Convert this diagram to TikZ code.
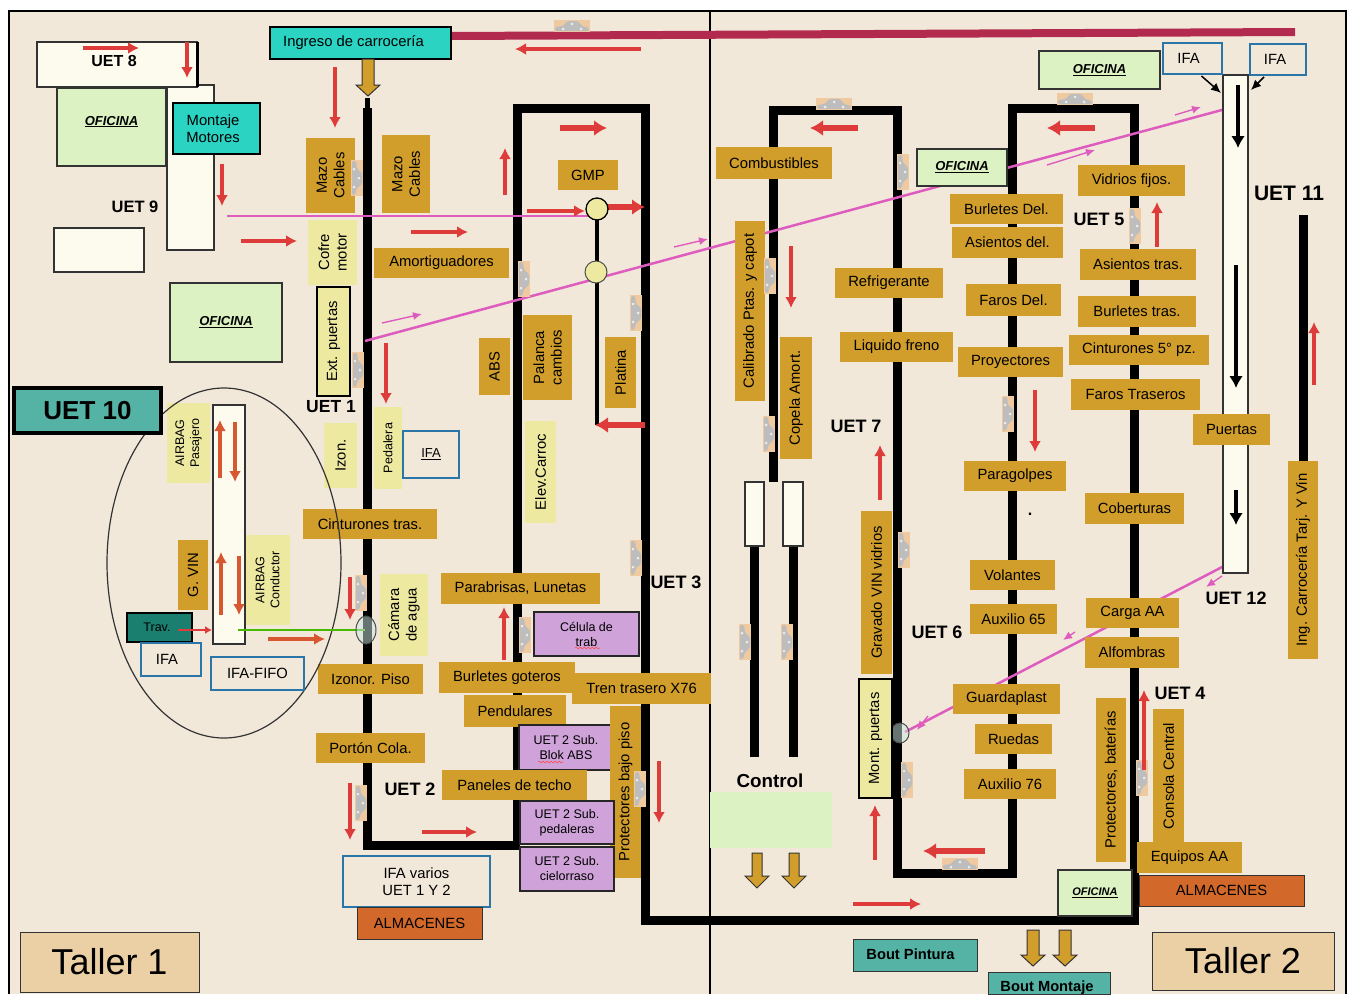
\documentclass[tikz,border=0pt]{standalone}
\usepackage{fontspec}
\setmainfont{Liberation Sans}
\usetikzlibrary{decorations.pathmorphing,arrows.meta}
\definecolor{beigeBg}{HTML}{F2E8DA}
\definecolor{goldBox}{HTML}{D19E2B}
\definecolor{paleBox}{HTML}{EDE9A1}
\definecolor{aquaBox}{HTML}{2BD3C3}
\definecolor{creamBox}{HTML}{FDFAEE}
\definecolor{officeBox}{HTML}{DCF2C2}
\definecolor{purpleBox}{HTML}{CFA3D9}
\definecolor{tealBox}{HTML}{55B3A5}
\definecolor{travBox}{HTML}{1B7F70}
\definecolor{orangeBox}{HTML}{D2692B}
\definecolor{ifaBlue}{HTML}{2A76A8}
\definecolor{tallerBox}{HTML}{EBD0A6}
\definecolor{flowRed}{HTML}{DE3B3B}
\definecolor{flowPink}{HTML}{DE5CBE}
\definecolor{crimsonBar}{HTML}{B22A4E}
\definecolor{carTan}{HTML}{EFC9A0}
\definecolor{carGray}{HTML}{BDBDBD}
\tikzset{
  sz/.style 2 args={minimum width=#1pt,minimum height=#2pt},
  base/.style={inner sep=0pt,outer sep=0pt,align=center,font=\fontsize{14.8}{17.5}\selectfont},
  gold/.style={base,fill=goldBox},
  pale/.style={base,fill=paleBox},
  paleline/.style={base,fill=paleBox,draw=black,line width=1.2pt},
  aqua/.style={base,fill=aquaBox,draw=black,line width=1.5pt},
  cream/.style={base,fill=creamBox,draw=black!80,line width=1.3pt},
  office/.style={base,fill=officeBox,draw=black!80,line width=1.3pt,font=\fontsize{13}{15}\selectfont\bfseries\itshape},
  purple/.style={base,fill=purpleBox,draw=black!85,line width=1.5pt,font=\fontsize{12.5}{15}\selectfont},
  ifabox/.style={base,draw=ifaBlue,line width=2.5pt},
  orangebox/.style={base,fill=orangeBox,draw=black!80,line width=1pt},
  tealbox/.style={base,fill=tealBox,draw=black!80,line width=1pt,font=\fontsize{14.7}{17}\selectfont\bfseries},
  tallerbox/.style={base,fill=tallerBox,draw=black!80,line width=1pt,font=\fontsize{36}{40}\selectfont},
  uetlabel/.style={base,font=\fontsize{18}{20}\selectfont\bfseries},
  belt/.style={line width=9pt,black},
  flowarrow/.style={-{Latex[length=11pt,width=12pt]},line width=4pt,flowRed},
  bigarrow/.style={-{Latex[length=13pt,width=16pt]},line width=5.5pt,flowRed},
  pinkline/.style={line width=2.5pt,flowPink},
  pinkarrow/.style={-{Latex[length=9pt,width=8pt]},line width=1.4pt,flowPink},
  blackarrow/.style={-{Latex[length=12pt,width=14pt]},line width=4pt,black},
  goldarrow/.style={line width=1pt,draw=black!80,fill=goldBox},
  car/.pic={
    \fill[carTan] (-18,-6) rectangle (18,6);
    \fill[carGray,rounded corners=1.5pt] (-17,5) -- (-17,1) -- (-9,0) -- (-5,-5) -- (6,-5) -- (10,0) -- (17,2) -- (17,5) -- cycle;
    \fill[white!85!gray] (-9,3) circle (1.5) (9,3) circle (1.5) (0,-2) circle (1.5);
  },
  squiggle/.style={red!70,line width=.6pt,decorate,decoration={snake,amplitude=.8pt,segment length=4pt}}
}
\newcommand{\oficina}{\underline{OFICINA}}
\begin{document}
\begin{tikzpicture}[x=1pt,y=-1pt]
  \useasboundingbox (0,0) rectangle (1351,994);
  \fill[white] (0,0) rectangle (1351,994);
  \fill[beigeBg] (9,11) rectangle (1346,994);
  \draw[line width=1.8pt,black] (9,994) -- (9,11) -- (1346,11) -- (1346,994);
  \draw[line width=2.5pt,black] (710,11) -- (710,994);

  % Lines of the plant
  \draw[belt] (367,108) -- (367,845) -- (520,845);
  \draw[line width=5pt] (367,98) -- (367,110);
  \draw[belt] (517,845) -- (517,108) -- (645,108) -- (645,920) -- (1134,920) -- (1134,108) -- (1012,108) -- (1012,873) -- (897,873) -- (897,110) -- (773,110) -- (773,482);
  \draw[belt] (754,546) -- (754,757);
  \draw[belt] (793,546) -- (793,757);
  \draw[belt] (1303,215) -- (1303,461);
  \draw[line width=4pt] (597,207) -- (597,425);
  \draw[crimsonBar,line width=8pt] (451,36) -- (1295,32);

  % Pink routes
  \draw[pinkline] (227,216) -- (597,216);
  \draw[pinkline] (365,341) -- (1233,107);
  \draw[pinkline] (1224,566) -- (905,732);
  \foreach \xa/\ya/\xb/\yb in {382/323/422/314,674/247/708/239,1047/165/1095/150,1175/115/1201/107,1222/576/1206/587,1075/632/1063/640,928/716/917/730}{
    \draw[pinkarrow] (\xa,\ya) -- (\xb,\yb);
  }
  \draw[line width=1pt,black!70,fill=tealBox!30,fill opacity=.5] (900,733) ellipse [x radius=9,y radius=10];

  % Left side
  \node[cream,sz={47}{165}] (crMotores) at (190.5,167.5) {};
  \node[cream,sz={160}{45}] (crUetEight) at (117,64.5) {};
  \draw[line width=3pt] (197,42) -- (197,87);
  \node[uetlabel,font=\fontsize{16}{18}\selectfont\bfseries] (uetEight) at (114,61) {UET 8};
  \node[office,sz={109}{78}] (ofiA) at (111.5,127) {\raisebox{2pt}[0pt][0pt]{\oficina}};
  \node[aqua,sz={87}{51}] (montaje) at (216.5,128.5) {\hspace*{-7pt}Montaje\\\hspace*{-7pt}Motores};
  \node[uetlabel,font=\fontsize{16.5}{18}\selectfont\bfseries] (uetNine) at (135,207) {UET 9};
  \node[cream,sz={90}{44}] (crNine) at (99,250) {};
  \node[office,sz={112}{79}] (ofiB) at (226,322.5) {\raisebox{-3pt}[0pt][0pt]{\oficina}};
  \node[aqua,sz={181}{32}] (ingreso) at (360.5,43) {\hspace*{-14pt}\raisebox{1pt}{Ingreso de carrocería}};

  \node[gold,sz={75}{49},rotate=90] (mazoA) at (330.5,175.5) {Mazo\\Cables};
  \node[gold,sz={78}{48},rotate=90] (mazoB) at (406,174) {Mazo\\Cables};
  \node[pale,sz={65}{49},rotate=90] (cofre) at (332.5,252.5) {Cofre\\motor};
  \node[paleline,sz={109}{33},rotate=90] (extPuertas) at (333.5,341.5) {Ext. puertas};
  \node[gold,sz={135}{30}] (amort) at (441.5,263) {Amortiguadores};
  \node[gold,sz={57}{31},rotate=90] (abs) at (494.5,366.5) {ABS};
  \node[gold,sz={85}{49},rotate=90] (palanca) at (547.5,357.5) {Palanca\\cambios};
  \node[gold,sz={71}{31},rotate=90] (platina) at (620.5,372.5) {Platina};
  \node[gold,sz={60}{30}] (gmp) at (588,175) {GMP};
  \node[pale,sz={102}{31},rotate=90] (elev) at (540.5,472) {Elev.Carroc};
  \node[uetlabel,font=\fontsize{17.5}{20}\selectfont\bfseries] (uetUno) at (331,407) {UET 1};
  \node[pale,sz={65}{33},rotate=90] (izon) at (340.5,455.5) {Izon.};
  \node[pale,sz={82}{28},rotate=90,font=\fontsize{12.5}{15}\selectfont] (pedalera) at (388,448) {Pedalera};
  \node[ifabox,sz={56}{47},font=\fontsize{13}{15}\selectfont] (ifaPed) at (431,454.5) {\underline{IFA}};
  \node[gold,sz={134}{30}] (cintTras) at (370,524) {Cinturones  tras.};
  \node[pale,sz={82}{48},rotate=90] (camara) at (404,615) {Cámara\\de agua};
  \node[gold,sz={105}{30}] (izonor) at (370.5,679) {Izonor. Piso};
  \node[gold,sz={109}{30}] (porton) at (370.5,748) {Portón Cola.};
  \node[uetlabel] (uetDos) at (410,789) {UET 2};

  % Ellipse of UET 10
  \node[pale,sz={80}{43},rotate=90,font=\fontsize{12.5}{15}\selectfont] (airbagP) at (188.5,443) {AIRBAG\\Pasajero};
  \node[gold,sz={70}{30},rotate=90] (gvin) at (193,575) {G. VIN};
  \node[pale,sz={90}{45},rotate=90,font=\fontsize{12.5}{15}\selectfont] (airbagC) at (267.5,580) {AIRBAG\\Conductor};
  \draw[line width=1.2pt,black!80] (224,563) ellipse [x radius=117,y radius=175];
  \node[cream,sz={32}{239}] (crTen) at (229,524.5) {};
  \node[base,fill=tealBox,draw=black,line width=4pt,sz={147}{45},font=\fontsize{26}{30}\selectfont\bfseries] (uetDiez) at (87.5,410.5) {UET 10};
  \node[base,fill=travBox,draw=black,line width=1.2pt,sz={65}{29},font=\fontsize{12.5}{15}\selectfont] (trav) at (159.5,627.5) {\hspace*{-5pt}Trav.};
  \node[ifabox,sz={60}{33}] (ifaTrav) at (171,659.5) {\hspace*{-8pt}IFA};
  \node[ifabox,sz={93}{33}] (ifaFifo) at (257.5,673.5) {IFA-FIFO};
  \draw[line width=2.5pt,green!45!olive] (238,630) -- (365,630);
  \draw[line width=1pt,black!70,fill=tealBox!30,fill opacity=.5] (366,630) ellipse [x radius=10,y radius=14];
  \foreach \xa/\ya/\xb/\yb in {220/478/220/420,235/422/235/482,221/615/221/552,239/556/239/615,268/639/325/639}{
    \draw[flowarrow,orangeBox!60!flowRed] (\xa,\ya) -- (\xb,\yb);
  }
  \draw[-{Latex[length=7pt,width=8pt]},line width=2pt,flowRed] (178,630) -- (212,630);

  % Centre
  \node[gold,sz={159}{31}] (parabrisas) at (520.5,588.5) {Parabrisas, Lunetas};
  \node[purple,sz={105}{44}] (celula) at (586.5,634) {Célula de\\trab};
  \draw[squiggle] (575,648) -- (600,648);
  \node[gold,sz={136}{31}] (burletesGot) at (507,677.5) {Burletes goteros};
  \node[gold,sz={139}{31}] (tren) at (641.5,688.5) {Tren trasero X76};
  \node[gold,sz={102}{32}] (pendulares) at (515,711) {Pendulares};
  \node[purple,sz={94}{45}] (subBlok) at (566,747.5) {UET 2 Sub.\\Blok ABS};
  \draw[squiggle] (538,762) -- (563,762);
  \node[gold,sz={172}{31},rotate=90] (protBajo) at (625.5,792) {Protectores bajo piso};
  \node[gold,sz={145}{30}] (paneles) at (514.5,785) {Paneles de  techo};
  \node[purple,sz={94}{43}] (subPed) at (567,822.5) {UET 2 Sub.\\pedaleras};
  \node[purple,sz={94}{44}] (subCiel) at (567,869) {UET 2 Sub.\\cielorraso};
  \node[uetlabel] (uetTres) at (676,582) {UET 3};
  \node[base,draw=ifaBlue,line width=2.5pt,sz={147}{51}] (ifaVarios) at (416.5,881.5) {IFA varios\\UET 1 Y 2};
  \node[orangebox,sz={125}{32}] (almA) at (419.5,923) {ALMACENES};
  \node[tallerbox,sz={179}{60}] (tallerUno) at (109.5,962) {Taller 1};

  % Control
  \node[gold,sz={116}{32}] (combust) at (774,163) {Combustibles};
  \node[gold,sz={180}{30},rotate=90] (calibrado) at (750,311) {Calibrado Ptas. y capot};
  \node[gold,sz={122}{32},rotate=90] (copela) at (796,398) {Copela Amort.};
  \node[cream,sz={19}{64}] (crCtrlA) at (754.5,514) {};
  \node[cream,sz={20}{64}] (crCtrlB) at (793,514) {};
  \node[uetlabel] (uetSiete) at (856,426) {UET 7};
  \node[base,sz={60}{20},font=\fontsize{18.8}{20}\selectfont\bfseries] (control) at (770,781) {Control};
  \fill[officeBox] (710,792) rectangle (832,848);
  \foreach \x in {757,794}{
    \draw[goldarrow] (\x-5,853) -- (\x+5,853) -- (\x+5,876) -- (\x+12,876) -- (\x,888) -- (\x-12,876) -- (\x-5,876) -- cycle;
  }
  \foreach \x in {1033,1065}{
    \draw[goldarrow] (\x-6,930) -- (\x+6,930) -- (\x+6,955) -- (\x+12,955) -- (\x,966) -- (\x-12,955) -- (\x-6,955) -- cycle;
  }
  \draw[goldarrow] (362,59) -- (374,59) -- (374,85) -- (380,85) -- (368,96) -- (356,85) -- (362,85) -- cycle;

  % Taller 2
  \node[gold,sz={108}{30}] (refrig) at (889,283) {Refrigerante};
  \node[gold,sz={113}{30}] (liquido) at (896.5,347) {Liquido freno};
  \node[office,sz={90}{37}] (ofiC) at (962,167.5) {\oficina};
  \node[gold,sz={113}{30}] (burletesDel) at (1006.5,209) {Burletes Del.};
  \node[gold,sz={111}{31}] (asientosDel) at (1007.5,242.5) {Asientos del.};
  \node[gold,sz={95}{32}] (farosDel) at (1013.5,300) {Faros Del.};
  \node[gold,sz={105}{30}] (proyect) at (1010.5,362) {Proyectores};
  \node[gold,sz={102}{30}] (paragolpes) at (1015,476) {Paragolpes};
  \node[gold,sz={85}{30}] (volantes) at (1012.5,575) {Volantes};
  \node[gold,sz={87}{30}] (auxSesenta) at (1013.5,619) {Auxilio 65};
  \node[gold,sz={107}{30}] (guardaplast) at (1006.5,699) {Guardaplast};
  \node[gold,sz={77}{30}] (ruedas) at (1013.5,739) {Ruedas};
  \node[gold,sz={92}{30}] (auxSetenta) at (1010,784) {Auxilio 76};
  \node[uetlabel] (uetSeis) at (937,632) {UET 6};
  \node[gold,sz={163}{31},rotate=90] (gravado) at (876.5,592.5) {Gravado VIN vidrios};
  \node[paleline,sz={119}{33},rotate=90] (montPuertas) at (875.5,738.5) {Mont. puertas};
  \node[base,font=\fontsize{16}{18}\selectfont\bfseries] (punto) at (1030,514) {.};
  \node[gold,sz={107}{31}] (vidrios) at (1131.5,180.5) {Vidrios fijos.};
  \node[uetlabel] (uetCinco) at (1099,219) {UET 5};
  \node[gold,sz={116}{31}] (asientosTras) at (1138,264.5) {Asientos tras.};
  \node[gold,sz={118}{31}] (burletesTras) at (1137,311.5) {Burletes  tras.};
  \node[gold,sz={140}{30}] (cintCinco) at (1139,350) {Cinturones 5° pz.};
  \node[gold,sz={129}{31}] (farosTras) at (1135.5,394.5) {Faros Traseros};
  \node[gold,sz={99}{31}] (coberturas) at (1134.5,508.5) {Coberturas};
  \node[gold,sz={93}{30}] (cargaAA) at (1132.5,613) {Carga AA};
  \node[gold,sz={94}{31}] (alfombras) at (1132,652.5) {Alfombras};
  \node[gold,sz={164}{30},rotate=90] (protBat) at (1111,780) {Protectores, baterías};
  \node[gold,sz={134}{31},rotate=90] (consola) at (1168.5,776) {Consola Central};
  \node[uetlabel] (uetCuatro) at (1180,693) {UET 4};
  \node[gold,sz={105}{31}] (equipos) at (1189.5,857.5) {Equipos AA};
  \node[orangebox,sz={165}{31}] (almB) at (1221.5,890.5) {ALMACENES};
  \node[office,sz={74}{46},font=\fontsize{11}{13}\selectfont\bfseries\itshape] (ofiD) at (1095,893) {\oficina};
  \node[office,sz={121}{38}] (ofiE) at (1099.5,70) {\oficina};
  \node[cream,sz={25}{498}] (crOnce) at (1235.5,324) {};
  \node[ifabox,sz={59}{31}] (ifaUno) at (1192.5,58.5) {\hspace*{-8pt}IFA};
  \node[ifabox,sz={56}{31}] (ifaDos) at (1278,59.5) {\hspace*{-6pt}IFA};
  \node[uetlabel,font=\fontsize{21}{24}\selectfont\bfseries] (uetOnce) at (1289,193) {UET 11};
  \node[gold,sz={77}{31}] (puertas) at (1231.5,429.5) {Puertas};
  \node[uetlabel] (uetDoce) at (1236,598) {UET 12};
  \node[gold,sz={198}{30},rotate=90] (ingCarr) at (1303,560) {Ing. Carrocería Tarj. Y Vin};
  \node[tealbox,sz={124}{32}] (boutPint) at (915,955) {\hspace*{-9pt}\raisebox{2pt}{Bout Pintura}};
  \node[tealbox,sz={122}{22},anchor=north] (boutMont) at (1049,972) {\hspace*{-4pt}\raisebox{-8pt}[0pt][0pt]{Bout Montaje}};
  \node[tallerbox,sz={182}{58}] (tallerDos) at (1243,961) {Taller 2};

  % Cars on the line
  \foreach \x/\y/\a in {572/26/0,834/104/0,1075/99/0,960/864/0,357/178/-90,358/370/-90,361/593/-90,361/803/-90,524/279/-90,636/313/-90,636/558/-90,525/635/-90,770/276/-90,769/434/-90,903/172/-90,904/550/-90,907/780/-90,745/642/-90,787/642/-90,1008/414/-90,1135/226/-90,1142/778/-90,640/789/-90}{
    \pic[rotate=\a] at (\x,\y) {car};
  }

  % Flow arrows
  \foreach \xa/\ya/\xb/\yb in {83/48/139/48,187/42/187/78,222/164/222/206,335/67/335/128,241/241/297/241,411/232/468/232,505/195/505/148,527/211/585/211,386/343/386/404,641/49/515/49,791/246/791/308,1157/247/1157/202,1035/390/1035/452,880/500/880/445,875/860/875/805,853/904/921/904,659/761/659/823,504/660/504/607,350/577/350/620,422/832/477/832,350/783/350/840,1144/770/1144/690,1314/385/1314/322}{
    \draw[flowarrow] (\xa,\ya) -- (\xb,\yb);
  }
  \foreach \xa/\ya/\xb/\yb in {560/128/607/128,597/207/645/207,645/425/595/425,858/128/810/128,1095/128/1047/128,985/851/923/851}{
    \draw[bigarrow] (\xa,\ya) -- (\xb,\yb);
  }
  \node[base,circle,fill=paleBox,draw=black,line width=1.3pt,minimum size=22pt] (gmpCircA) at (597,209) {};
  \node[base,circle,fill=paleBox,draw=black!70,line width=1pt,minimum size=22pt] (gmpCircB) at (596,272) {};

  % Black arrows on UET 11
  \draw[blackarrow] (1238,85) -- (1238,148);
  \draw[blackarrow] (1236,265) -- (1236,388);
  \draw[blackarrow] (1236,490) -- (1236,525);
  \draw[-{Latex[length=10pt,width=9pt]},line width=1.5pt] (ifaUno.south) ++(9,2) -- (1221,93);
  \draw[-{Latex[length=10pt,width=9pt]},line width=1.5pt] (ifaDos.south) ++(-14,2) -- (1251,90);
\end{tikzpicture}
\end{document}
